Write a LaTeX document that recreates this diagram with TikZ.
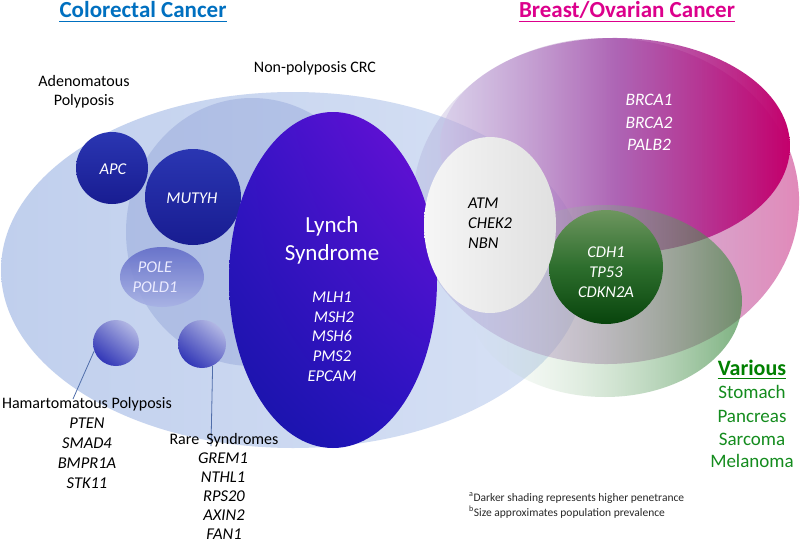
\documentclass[tikz,border=0pt]{standalone}
\usepackage{fontspec}
\setmainfont{Carlito}
\usetikzlibrary{fadings,shadings}
\definecolor{crcL}{RGB}{192,207,237}
\definecolor{crcR}{RGB}{216,226,245}
\definecolor{npc}{RGB}{120,140,205}
\definecolor{pinkL}{RGB}{150,140,200}
\definecolor{pinkR}{RGB}{222,125,178}
\definecolor{magL}{RGB}{205,190,228}
\definecolor{magM}{RGB}{158,70,168}
\definecolor{magR}{RGB}{196,0,108}
\definecolor{grnL}{RGB}{200,225,200}
\definecolor{grnR}{RGB}{55,135,60}
\definecolor{apcT}{RGB}{42,54,178}
\definecolor{apcB}{RGB}{24,28,145}
\definecolor{poleT}{RGB}{98,108,200}
\definecolor{poleB}{RGB}{168,178,228}
\definecolor{smUR}{RGB}{205,210,238}
\definecolor{smUL}{RGB}{120,125,205}
\definecolor{smLL}{RGB}{25,30,175}
\definecolor{smLR}{RGB}{100,105,200}
\definecolor{lyUR}{RGB}{110,15,215}
\definecolor{lyUL}{RGB}{55,20,200}
\definecolor{lyLL}{RGB}{20,20,165}
\definecolor{lyLR}{RGB}{40,20,195}
\definecolor{atmL}{RGB}{246,246,246}
\definecolor{atmR}{RGB}{224,224,224}
\definecolor{cdT}{RGB}{110,150,95}
\definecolor{cdM}{RGB}{45,110,45}
\definecolor{cdB}{RGB}{8,68,12}
\definecolor{titleBlue}{RGB}{0,112,192}
\definecolor{titleMag}{RGB}{220,0,140}
\definecolor{varGreen}{RGB}{0,128,0}
\definecolor{listGreen}{RGB}{20,140,30}
\definecolor{linkC}{RGB}{80,110,170}
\definecolor{noteC}{RGB}{40,40,40}
\tikzfading[name=fadeP, left color=transparent!80, right color=transparent!10]
\tikzfading[name=fadeM, left color=transparent!55, middle color=transparent!0, right color=transparent!0]
\tikzfading[name=fadeG, left color=transparent!100, right color=transparent!35]
\tikzset{
  body/.style={font=\fontsize{16}{19}\selectfont, inner sep=0pt, anchor=base},
  gene/.style={font=\fontsize{16.5}{19}\selectfont\itshape, inner sep=0pt, anchor=base},
  wgene/.style={gene, text=white},
  big/.style={font=\fontsize{23}{27}\selectfont, inner sep=0pt, anchor=base, text=white},
  ttl/.style={font=\fontsize{23}{27}\selectfont\bfseries, inner sep=0pt, anchor=base},
  grn/.style={font=\fontsize{19}{22}\selectfont, inner sep=0pt, anchor=base, text=listGreen},
  note/.style={font=\fontsize{11.5}{14}\selectfont, inner sep=0pt, anchor=base west, text=noteC},
  link/.style={draw=linkC, line width=0.8pt}
}
\begin{document}
\begin{tikzpicture}[x=1pt,y=-1pt]
\useasboundingbox (0,0) rectangle (800,543);
\fill[white] (0,0) rectangle (800,543);
% colorectal ellipse
\shade[left color=crcL, right color=crcR] (293,270) ellipse [x radius=292, y radius=178];
% non-polyposis region
\fill[npc, fill opacity=0.3] (252,232) ellipse [x radius=126, y radius=134];
% breast/ovarian outer
\shade[left color=pinkL, right color=pinkR, path fading=fadeP] (606,201) ellipse [x radius=193, y radius=163];
% breast/ovarian core
\shade[left color=magL, right color=magR, middle color=magM, path fading=fadeM] (615,146) ellipse [x radius=175, y radius=108];
% various
\shade[left color=grnL, right color=grnR, path fading=fadeG] (605,301) ellipse [x radius=137, y radius=96];
% APC, MUTYH
\shade[top color=apcT, bottom color=apcB] (112,168) circle [radius=36];
\shade[top color=apcT, bottom color=apcB] (193,197) circle [radius=48];
% POLE
\shade[top color=poleT, bottom color=poleB, fill opacity=0.9] (162,277) ellipse [x radius=42, y radius=30];
% small circles
\shade[upper right=smUR, upper left=smUL, lower left=smLL, lower right=smLR] (116,343) circle [radius=23];
\shade[upper right=smUR, upper left=smUL, lower left=smLL, lower right=smLR] (202,344) circle [radius=24];
\node[circle, minimum size=46pt, inner sep=0pt] (ham) at (116,343) {};
\node[circle, minimum size=48pt, inner sep=0pt] (rare) at (202,344) {};
% Lynch
\shade[upper right=lyUR, upper left=lyUL, lower left=lyLL, lower right=lyLR] (333,280) ellipse [x radius=104, y radius=168];
% CDH1
\shade[top color=cdT, bottom color=cdB, middle color=cdM] (606,267) circle [radius=57];
% ATM
\shade[left color=atmL, right color=atmR] (490,225) ellipse [x radius=66, y radius=88];

% connectors
\coordinate (hamEnd) at (73,399);
\coordinate (rareEnd) at (211,446);
\draw[link] (ham.200) -- (hamEnd);
\draw[link] (rare.-64) -- (rareEnd);

% titles
\node[ttl, text=titleBlue] (t1) at (143,18) {Colorectal Cancer};
\draw[titleBlue, line width=1.6pt] ([yshift=-3.5pt]t1.base west) -- ([yshift=-3.5pt]t1.base east);
\node[ttl, text=titleMag] (t2) at (627,18) {Breast/Ovarian Cancer};
\draw[titleMag, line width=1.6pt] ([yshift=-3.5pt]t2.base west) -- ([yshift=-3.5pt]t2.base east);

% group labels
\node[body] (npcL) at (315,73) {Non-polyposis CRC};
\node[body] (adenA) at (84,86) {Adenomatous};
\node[body] (adenB) at (84,105) {Polyposis};

% APC / MUTYH / POLE
\node[wgene] (apcT) at (113,174) {APC};
\node[wgene] (mutT) at (192,203) {MUTYH};
\node[gene, text=white!92!blue] (pole1) at (155,272) {POLE};
\node[gene, text=white!92!blue] (pole2) at (155,292) {POLD1};

% Lynch
\node[big] (ly1) at (332,232) {Lynch};
\node[big] (ly2) at (332,260) {Syndrome};
\node[wgene] (g1) at (332,302) {MLH1};
\node[wgene] (g2) at (334,322) {MSH2};
\node[wgene] (g3) at (332,341) {MSH6};
\node[wgene] (g4) at (332,361) {PMS2};
\node[wgene] (g5) at (332,381) {EPCAM};

% Hamartomatous
\node[body] (hamL) at (87,408) {Hamartomatous Polyposis};
\node[gene] (h1) at (87,428) {PTEN};
\node[gene] (h2) at (87,448) {SMAD4};
\node[gene] (h3) at (87,468) {BMPR1A};
\node[gene] (h4) at (87,488) {STK11};

% Rare
\node[body] (rareL) at (224,444) {Rare\ \ Syndromes};
\node[gene] (r1) at (223,463) {GREM1};
\node[gene] (r2) at (223,482) {NTHL1};
\node[gene] (r3) at (224,501) {RPS20};
\node[gene] (r4) at (224,520) {AXIN2};
\node[gene] (r5) at (224,539) {FAN1};

% ATM
\node[gene, anchor=base west] (a1) at (468,208) {ATM};
\node[gene, anchor=base west] (a2) at (468,228) {CHEK2};
\node[gene, anchor=base west] (a3) at (468,248) {NBN};

% BRCA
\node[wgene, font=\fontsize{17.5}{20}\selectfont\itshape] (b1) at (649,105) {BRCA1};
\node[wgene, font=\fontsize{17.5}{20}\selectfont\itshape] (b2) at (649,128) {BRCA2};
\node[wgene, font=\fontsize{17.5}{20}\selectfont\itshape] (b3) at (649,150) {PALB2};

% CDH1
\node[wgene] (c1) at (606,257) {CDH1};
\node[wgene] (c2) at (606,277) {TP53};
\node[wgene] (c3) at (606,297) {CDKN2A};

% Various
\node[ttl, font=\fontsize{22}{26}\selectfont\bfseries, text=varGreen] (v0) at (752,375) {Various};
\draw[varGreen, line width=1.5pt] ([yshift=-3.5pt]v0.base west) -- ([yshift=-3.5pt]v0.base east);
\node[grn] (v1) at (752,398) {Stomach};
\node[grn] (v2) at (752,422) {Pancreas};
\node[grn] (v3) at (752,445) {Sarcoma};
\node[grn] (v4) at (752,467) {Melanoma};

% notes
\node[note] (n1) at (469,501) {\textsuperscript{a}Darker shading represents higher penetrance};
\node[note] (n2) at (469,516) {\textsuperscript{b}Size approximates population prevalence};
\end{tikzpicture}
\end{document}
